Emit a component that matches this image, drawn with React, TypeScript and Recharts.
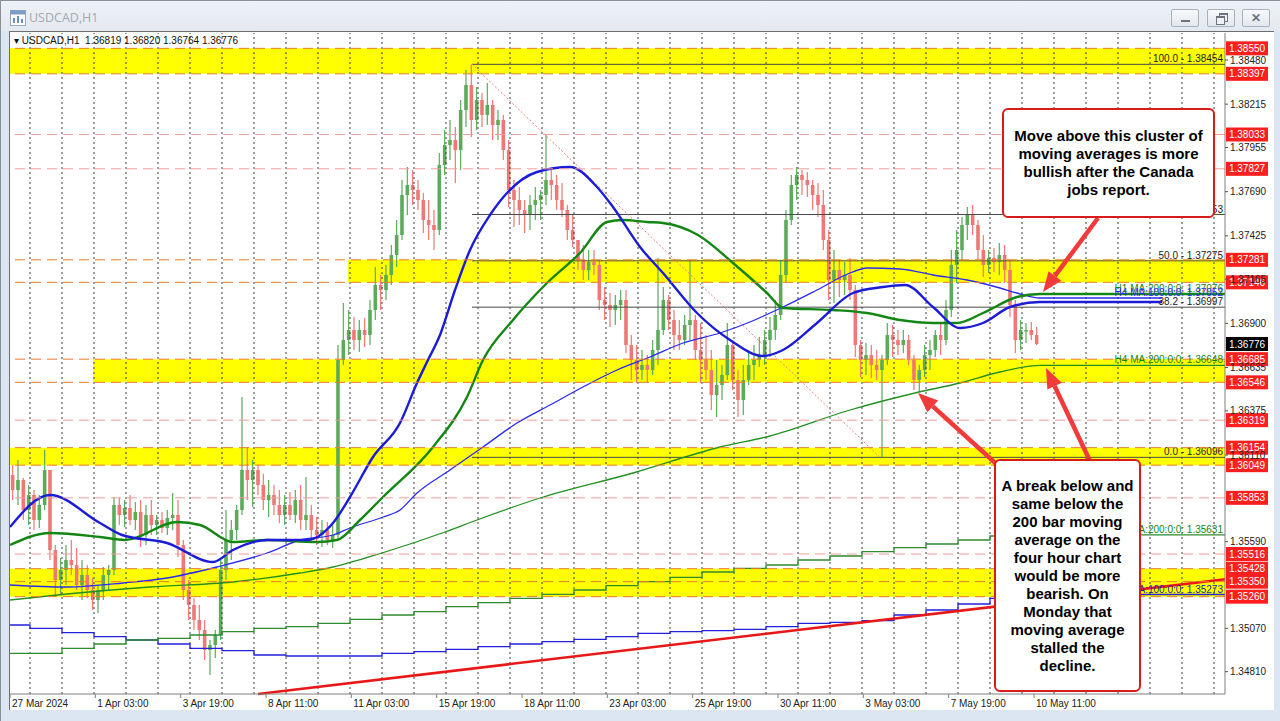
import React from 'react';
import { ComposedChart, Bar, Line, XAxis, YAxis, ReferenceArea, ReferenceLine } from 'recharts';

const FONT = '"Liberation Sans", Arial, sans-serif';
const BULL = '#5caa5c';
const BEAR = '#f07777';

// x is measured in H1 bars from the left edge of the chart
const X_MAX = 911.25;
const Y_MIN = 1.34676;
const Y_MAX = 1.38642;

const X_TICKS = [0, 64, 128, 192, 256, 320, 384, 448, 512, 576, 640, 704, 768];
const X_LABELS = ['27 Mar 2024', '1 Apr 03:00', '3 Apr 19:00', '8 Apr 11:00', '11 Apr 03:00', '15 Apr 19:00',
  '18 Apr 11:00', '23 Apr 03:00', '25 Apr 19:00', '30 Apr 11:00', '3 May 03:00', '7 May 19:00', '10 May 11:00'];
const Y_TICKS = [1.3848, 1.38215, 1.37955, 1.3769, 1.37425, 1.37165, 1.369, 1.36635, 1.36375, 1.3611, 1.3559, 1.3507, 1.3481];

const FIRST_OPEN = 1.3599;
const highs = [
  1.3605, 1.3608, 1.35972, 1.3593, 1.359, 1.3587, 1.3614, 1.3599, 1.3557, 1.35492,
  1.3557, 1.356, 1.35552, 1.3548, 1.3545, 1.35372, 1.3533, 1.35438, 1.3545, 1.35858,
  1.35852, 1.3584, 1.3587, 1.35828, 1.3584, 1.3581, 1.3584, 1.3575, 1.35768, 1.3578,
  1.35882, 1.3584, 1.356, 1.3536, 1.35252, 1.3521, 1.3512, 1.35, 1.3506, 1.3548,
  1.3578, 1.3572, 1.3581, 1.36458, 1.36158, 1.3608, 1.3605, 1.35998, 1.3596, 1.3593,
  1.359, 1.3587, 1.35888, 1.359, 1.3593, 1.35978, 1.3581, 1.35738, 1.3572, 1.35708,
  1.3569, 1.3677, 1.37022, 1.3698, 1.36938, 1.3692, 1.36932, 1.3704, 1.37238, 1.3719,
  1.3725, 1.3737, 1.3752, 1.3776, 1.37838, 1.3782, 1.3776, 1.37682, 1.3764, 1.3758,
  1.37922, 1.3806, 1.3812, 1.38078, 1.3824, 1.3842, 1.38454, 1.38318, 1.38282, 1.38342,
  1.3824, 1.3818, 1.3815, 1.38, 1.3776, 1.37718, 1.3764, 1.3767, 1.37718, 1.377,
  1.3803, 1.3782, 1.3779, 1.37742, 1.3761, 1.3755, 1.374, 1.3737, 1.3734, 1.3734,
  1.3728, 1.37118, 1.37082, 1.3707, 1.371, 1.371, 1.3683, 1.3677, 1.3674, 1.3671,
  1.368, 1.37292, 1.37118, 1.3707, 1.3698, 1.3692, 1.3695, 1.3728, 1.3695, 1.36902,
  1.3683, 1.3674, 1.3668, 1.3665, 1.36902, 1.368, 1.3662, 1.3665, 1.3674, 1.3677,
  1.36818, 1.3686, 1.36938, 1.3704, 1.3728, 1.3758, 1.3779, 1.37838, 1.3782, 1.37808,
  1.3776, 1.37742, 1.377, 1.3746, 1.3734, 1.3728, 1.37268, 1.37292, 1.3713, 1.368,
  1.36782, 1.3677, 1.3674, 1.3671, 1.36902, 1.3689, 1.3686, 1.3686, 1.3683, 1.3671,
  1.3665, 1.3677, 1.368, 1.3686, 1.36902, 1.3704, 1.3734, 1.3746, 1.37538, 1.37598,
  1.3761, 1.3752, 1.3743, 1.3734, 1.37352, 1.37382, 1.3737, 1.3728, 1.3704, 1.3692,
  1.36902, 1.36908, 1.36878,
];
const lows = [
  1.3584, 1.3581, 1.3572, 1.3569, 1.3566, 1.35672, 1.3578, 1.3548, 1.35258, 1.3527,
  1.3533, 1.3539, 1.353, 1.3524, 1.35252, 1.3518, 1.35162, 1.3524, 1.353, 1.3539,
  1.3569, 1.35678, 1.3569, 1.3566, 1.35558, 1.3557, 1.3563, 1.3563, 1.35642, 1.3563,
  1.3566, 1.35498, 1.3524, 1.3512, 1.3506, 1.35, 1.3488, 1.3479, 1.34892, 1.35,
  1.3536, 1.3548, 1.356, 1.3575, 1.3584, 1.35798, 1.3587, 1.3578, 1.35738, 1.3575,
  1.35702, 1.3569, 1.3572, 1.35702, 1.3566, 1.3566, 1.356, 1.3557, 1.35558, 1.3557,
  1.35552, 1.356, 1.3665, 1.3671, 1.3674, 1.36728, 1.36758, 1.3677, 1.3692, 1.3698,
  1.3704, 1.3713, 1.37238, 1.374, 1.3755, 1.3761, 1.3758, 1.37442, 1.374, 1.3734,
  1.3743, 1.3779, 1.3788, 1.37742, 1.3782, 1.38078, 1.38018, 1.3806, 1.38078, 1.3809,
  1.38, 1.38, 1.3788, 1.37598, 1.37478, 1.3749, 1.37442, 1.3746, 1.3752, 1.3752,
  1.3761, 1.3764, 1.3758, 1.37538, 1.374, 1.37358, 1.3722, 1.3716, 1.3716, 1.3719,
  1.3698, 1.3692, 1.36878, 1.3689, 1.3692, 1.36722, 1.3656, 1.36542, 1.3656, 1.36542,
  1.3659, 1.3665, 1.3683, 1.3686, 1.3674, 1.3674, 1.3677, 1.368, 1.3668, 1.36542,
  1.3656, 1.3638, 1.36338, 1.3644, 1.3656, 1.365, 1.36338, 1.3635, 1.3653, 1.3656,
  1.36638, 1.3665, 1.36698, 1.368, 1.3692, 1.37142, 1.3749, 1.3764, 1.3767, 1.37658,
  1.3758, 1.37538, 1.3734, 1.3704, 1.37022, 1.37058, 1.3707, 1.3704, 1.36698, 1.36578,
  1.3659, 1.36572, 1.3656, 1.36098, 1.3665, 1.36698, 1.3671, 1.36722, 1.3665, 1.365,
  1.36488, 1.36578, 1.3662, 1.36698, 1.3671, 1.3677, 1.36938, 1.37142, 1.3728, 1.374,
  1.3743, 1.3728, 1.37178, 1.37202, 1.37208, 1.3719, 1.37142, 1.36938, 1.36722, 1.3674,
  1.36782, 1.368, 1.3677,
];
const closes = [
  1.359, 1.3596, 1.3578, 1.3587, 1.3572, 1.3581, 1.3602, 1.3554, 1.3536, 1.3542,
  1.3548, 1.3545, 1.3533, 1.3539, 1.353, 1.3524, 1.353, 1.3539, 1.3542, 1.3581,
  1.3575, 1.35792, 1.3572, 1.35768, 1.3563, 1.3575, 1.3569, 1.3572, 1.35672, 1.35732,
  1.3575, 1.3557, 1.353, 1.3521, 1.3512, 1.3506, 1.3494, 1.3497, 1.3503, 1.3542,
  1.356, 1.3566, 1.3578, 1.3602, 1.3596, 1.3602, 1.3593, 1.3584, 1.3587, 1.3581,
  1.3575, 1.3581, 1.3575, 1.3584, 1.3572, 1.3575, 1.3566, 1.3563, 1.3566, 1.356,
  1.3563, 1.3668, 1.368, 1.3686, 1.368, 1.3686, 1.3683, 1.3698, 1.3713, 1.371,
  1.3719, 1.3731, 1.3743, 1.3767, 1.3773, 1.377, 1.3764, 1.3752, 1.3749, 1.3746,
  1.3785, 1.3797, 1.38, 1.3794, 1.3818, 1.3833, 1.3812, 1.3824, 1.3815, 1.3821,
  1.3809, 1.3812, 1.3794, 1.377, 1.3764, 1.3758, 1.3755, 1.3761, 1.3764, 1.3767,
  1.3776, 1.3773, 1.3764, 1.3758, 1.3746, 1.374, 1.3728, 1.3722, 1.37268, 1.3725,
  1.3704, 1.3701, 1.3698, 1.3701, 1.3704, 1.3677, 1.3668, 1.3662, 1.3665, 1.3662,
  1.3674, 1.3686, 1.3704, 1.3692, 1.3683, 1.368, 1.3689, 1.3692, 1.3674, 1.3668,
  1.3662, 1.3647, 1.3653, 1.3659, 1.3677, 1.3656, 1.3644, 1.3656, 1.3665, 1.3668,
  1.3671, 1.368, 1.3686, 1.3695, 1.3719, 1.3752, 1.3773, 1.3779, 1.3776, 1.3773,
  1.3767, 1.3761, 1.374, 1.3716, 1.3722, 1.3716, 1.3719, 1.371, 1.3677, 1.3668,
  1.3671, 1.3665, 1.3662, 1.3668, 1.3683, 1.368, 1.3677, 1.368, 1.3668, 1.3656,
  1.3662, 1.3671, 1.3674, 1.3683, 1.368, 1.3698, 1.3725, 1.3734, 1.3749, 1.3755,
  1.3749, 1.3734, 1.3725, 1.37292, 1.37268, 1.3731, 1.3722, 1.3701, 1.368, 1.3686,
  1.3686, 1.3683, 1.36776,
];

// moving averages: [bar, price]
const H1_MA100: [number, number][] = [
  [0, 1.35678], [30, 1.3587], [67.5, 1.35702], [84, 1.3563], [117.75, 1.35582], [152.25, 1.35468],
  [167.25, 1.3554], [192.75, 1.356], [222.75, 1.356], [242.25, 1.35702], [255, 1.35858], [272.25, 1.36098],
  [292.5, 1.36302], [305.25, 1.36542], [312.75, 1.36668], [322.5, 1.3683], [333.75, 1.371], [345, 1.3734],
  [360, 1.3755], [372.75, 1.37682], [395.25, 1.37808], [420, 1.37838], [440.25, 1.37718], [452.25, 1.37598],
  [472.5, 1.37358], [489.75, 1.37202], [515.25, 1.36962], [540, 1.368], [564.75, 1.36704], [579.75, 1.3674],
  [605.25, 1.36902], [632.25, 1.37082], [654.75, 1.37118], [671.25, 1.3713], [692.25, 1.36998], [712.5, 1.36872],
  [729.75, 1.36902], [750, 1.36998], [772.5, 1.37028], [864, 1.37028],
];
const H1_MA200: [number, number][] = [
  [0, 1.3557], [30, 1.35642], [67.5, 1.35618], [86.25, 1.356], [125.25, 1.35708], [142.5, 1.3569],
  [167.25, 1.35588], [192.75, 1.356], [230.25, 1.35588], [245.25, 1.356], [262.5, 1.3572], [279.75, 1.35858],
  [317.25, 1.36158], [342.75, 1.36458], [354.75, 1.3668], [377.25, 1.3692], [402.75, 1.37142], [427.5, 1.37322],
  [447.75, 1.37508], [459.75, 1.3752], [477.75, 1.37508], [489.75, 1.37502], [516, 1.3743], [542.25, 1.37262],
  [567.75, 1.37082], [579.75, 1.36992], [617.25, 1.3698], [642.75, 1.36962], [667.5, 1.3692], [692.25, 1.36902],
  [710.25, 1.36902], [729.75, 1.36962], [755.25, 1.37058], [772.5, 1.37076], [911.25, 1.37076],
];
const H4_MA100: [number, number][] = [
  [0, 1.3533], [42.75, 1.35318], [84.75, 1.35342], [117.75, 1.35372], [155.25, 1.35438], [192.75, 1.35522],
  [217.5, 1.356], [242.25, 1.3563], [255, 1.35672], [279.75, 1.35738], [292.5, 1.3578], [305.25, 1.35882],
  [330, 1.3602], [354.75, 1.36158], [380.25, 1.36302], [405, 1.3641], [429.75, 1.36518], [455.25, 1.3662],
  [480, 1.36698], [504.75, 1.36782], [532.5, 1.36842], [555, 1.36908], [579.75, 1.36998], [605.25, 1.371],
  [630, 1.37202], [642.75, 1.37232], [667.5, 1.37226], [692.25, 1.3719], [717.75, 1.3716], [742.5, 1.37112],
  [755.25, 1.37082], [772.5, 1.37052], [864, 1.37052],
];
const H4_MA200: [number, number][] = [
  [0, 1.3524], [42.75, 1.35276], [105, 1.35318], [167.25, 1.35348], [217.5, 1.35402], [242.25, 1.35438],
  [279, 1.35522], [326.25, 1.35648], [350.25, 1.3572], [397.5, 1.35852], [467.25, 1.36002], [532.5, 1.36158],
  [570, 1.36224], [630, 1.3638], [678.75, 1.36482], [712.5, 1.36542], [742.5, 1.36608], [772.5, 1.36648],
  [911.25, 1.36648],
];
// daily MAs, one value per trading day
const D1_MA200 = [1.3492, 1.3492, 1.3495, 1.34976, 1.35, 1.3501, 1.3503, 1.3505, 1.3507, 1.3508, 1.351,
  1.35124, 1.3515, 1.3517, 1.352, 1.35224, 1.3525, 1.35274, 1.353, 1.35326, 1.3535, 1.35376, 1.35408,
  1.3543, 1.3545, 1.3548, 1.35504, 1.3553, 1.35554, 1.35576, 1.356, 1.35624, 1.35631];
const D1_MA100 = [1.3509, 1.3507, 1.35044, 1.3502, 1.35, 1.34976, 1.3495, 1.34936, 1.3491, 1.34904, 1.34904,
  1.34904, 1.3492, 1.3493, 1.34944, 1.3496, 1.34976, 1.3499, 1.35004, 1.3502, 1.3504, 1.3505, 1.35056,
  1.35064, 1.3508, 1.351, 1.35106, 1.35116, 1.3515, 1.3518, 1.35216, 1.3525, 1.35273];

// drawn objects
const BANDS = [
  { from: 0, lo: 1.38397, hi: 1.3855 },
  { from: 253.5, lo: 1.37146, hi: 1.37281 },
  { from: 62.25, lo: 1.36546, hi: 1.36685 },
  { from: 0, lo: 1.36049, hi: 1.36154 },
  { from: 0, lo: 1.3526, hi: 1.35428 },
];
const LEVELS = [
  { v: 1.3855, edge: true }, { v: 1.38397, edge: true }, { v: 1.38033, edge: false }, { v: 1.37827, edge: false },
  { v: 1.37281, edge: true }, { v: 1.37146, edge: true }, { v: 1.36685, edge: true }, { v: 1.36546, edge: true },
  { v: 1.36319, edge: false }, { v: 1.36154, edge: true }, { v: 1.36049, edge: true }, { v: 1.35853, edge: false },
  { v: 1.35516, edge: false }, { v: 1.35428, edge: true }, { v: 1.3535, edge: true }, { v: 1.3526, edge: true },
];
const FIB_START = 346.5;
const FIB_END = 652.5;
const FIB = [
  { name: '100.0', v: 1.38454 }, { name: '61.8', v: 1.37553 }, { name: '50.0', v: 1.37275 },
  { name: '38.2', v: 1.36997 }, { name: '0.0', v: 1.36096 },
];
const TREND = [{ x: 186, y: 1.34676 }, { x: X_MAX, y: 1.35364 }];
const ARROWS = [
  [{ x: 816, y: 1.37532 }, { x: 774.75, y: 1.37088 }],
  [{ x: 810, y: 1.36074 }, { x: 777, y: 1.36632 }],
  [{ x: 744.75, y: 1.3602 }, { x: 681, y: 1.36482 }],
];
const MA_LABELS = [
  { text: 'H1 MA:200:0:0: 1.37076', v: 1.37076, color: '#138613' },
  { text: 'H4 MA:100:0:0: 1.37052', v: 1.37052, color: '#2b2bf0' },
  { text: 'H4 MA:200:0:0: 1.36648', v: 1.36648, color: '#138613' },
  { text: 'D1 MA:200:0:0: 1.35631', v: 1.35631, color: '#138613' },
  { text: 'D1 MA:100:0:0: 1.35273', v: 1.35273, color: '#2222aa' },
];

const candles = closes.map((c, i) => ({
  h: 4 * i + 2,
  open: i === 0 ? FIRST_OPEN : closes[i - 1],
  high: highs[i],
  low: lows[i],
  close: c,
}));
const toSeries = (pts: [number, number][]) => pts.map(([h, v]) => ({ h, v }));
const dayStart = (j: number) => (j === 0 ? 0 : 15 + 24 * (j - 1));
const stepSeries = (vals: number[]) => [
  ...vals.map((v, j) => ({ h: dayStart(j), v })),
  { h: X_MAX, v: vals[vals.length - 1] },
];
const GRID = Array.from({ length: 38 }, (_, k) => 15 + 24 * k);

const Candle = (props: any) => {
  const { x, y, width, height, payload } = props;
  if (!payload || x == null) return null;
  const top = Math.min(y, y + height);
  const hh = Math.abs(height);
  const { open, close, high, low } = payload;
  const span = high - low || 1e-9;
  const toY = (v: number) => top + ((high - v) / span) * hh;
  const color = close >= open ? BULL : BEAR;
  const cx = x + width / 2;
  const bw = 3.6;
  const b1 = toY(Math.max(open, close));
  const b2 = toY(Math.min(open, close));
  return (
    <g>
      <line x1={cx} x2={cx} y1={top} y2={top + hh} stroke={color} strokeWidth={1.2} />
      <rect x={cx - bw / 2} y={b1} width={bw} height={Math.max(1.5, b2 - b1)} fill={color} />
    </g>
  );
};

const XTick = (props: any) => {
  const { x, y, payload } = props;
  const idx = X_TICKS.indexOf(payload.value);
  return (
    <text x={x + 2} y={y + 7} fontSize={10} fontFamily={FONT} fill="#222" textAnchor="start">
      {X_LABELS[idx]}
    </text>
  );
};

const tagLabel = (text: string, bg: string) => (p: any) => {
  const vb = p.viewBox || {};
  const x = vb.x + vb.width + 1;
  const y = vb.y;
  return (
    <g>
      <rect x={x} y={y - 7} width={42} height={14} fill={bg} />
      <text x={x + 21} y={y + 3.5} textAnchor="middle" fill="#fff" fontSize={10} fontFamily={FONT}>{text}</text>
    </g>
  );
};

const rightText = (text: string, color: string) => (p: any) => {
  const vb = p.viewBox || {};
  return (
    <text x={vb.x + vb.width - 2} y={vb.y - 2} textAnchor="end" fontSize={10} fontFamily={FONT} fill={color}>{text}</text>
  );
};

const ArrowShape = (props: any) => {
  const { x1, y1, x2, y2 } = props;
  const a = Math.atan2(y2 - y1, x2 - x1);
  const len = 20;
  const half = 8;
  const bx = x2 - len * Math.cos(a);
  const by = y2 - len * Math.sin(a);
  const pts = [
    [x2, y2],
    [bx + half * Math.sin(a), by - half * Math.cos(a)],
    [bx - half * Math.sin(a), by + half * Math.cos(a)],
  ].map((p) => p.join(',')).join(' ');
  return (
    <g>
      <line x1={x1} y1={y1} x2={bx} y2={by} stroke="#f23a3a" strokeWidth={4.5} />
      <polygon points={pts} fill="#f23a3a" />
    </g>
  );
};

const boxStyle: React.CSSProperties = {
  position: 'absolute',
  background: '#fff',
  border: '2px solid #d81b1b',
  borderRadius: 6,
  boxSizing: 'border-box',
  display: 'flex',
  flexDirection: 'column',
  alignItems: 'center',
  justifyContent: 'center',
  fontFamily: FONT,
  fontWeight: 'bold',
  fontSize: 15,
  lineHeight: '18px',
  color: '#000',
  textAlign: 'center',
};

const btn: React.CSSProperties = {
  position: 'absolute',
  top: 9,
  width: 28,
  height: 18,
  border: '1px solid #a7b0bb',
  borderRadius: 2,
  background: 'linear-gradient(#f7f9fb,#e3e8ee)',
  boxSizing: 'border-box',
};

export default function App() {
  return (
    <div style={{ position: 'relative', width: 1280, height: 721, overflow: 'hidden', background: '#dce6f2' }}>
      <style>{'body{margin:0;}'}</style>
      {/* window frame */}
      <div style={{ position: 'absolute', left: 0, top: 0, width: 1280, height: 31, background: 'linear-gradient(#eef2f7,#e3e9f0)' }} />
      <div style={{ position: 'absolute', left: 0, top: 0, width: 1, height: 721, background: '#8b9097' }} />
      <div style={{ position: 'absolute', left: 0, top: 0, width: 1280, height: 1, background: '#8b9097' }} />
      <svg style={{ position: 'absolute', left: 10, top: 10 }} width={16} height={16}>
        <rect x={0.5} y={0.5} width={15} height={15} fill="#fff" stroke="#9aa7b8" />
        <rect x={0.5} y={0.5} width={15} height={4} fill="#7d9cc8" />
        <rect x={3} y={8} width={2} height={5} fill="#6a8fc0" />
        <rect x={7} y={6} width={2} height={7} fill="#6a8fc0" />
        <rect x={11} y={9} width={2} height={4} fill="#6a8fc0" />
      </svg>
      <div style={{ position: 'absolute', left: 29, top: 9, fontFamily: '"Open Sans", sans-serif', fontSize: 12.5, color: '#a5a9ae' }}>USDCAD,H1</div>
      <div style={{ ...btn, left: 1171 }}>
        <div style={{ position: 'absolute', left: 9, top: 10, width: 9, height: 2, background: '#6c7480' }} />
      </div>
      <div style={{ ...btn, left: 1207 }}>
        <div style={{ position: 'absolute', left: 11, top: 3, width: 7, height: 6, border: '1px solid #6c7480', borderTopWidth: 2 }} />
        <div style={{ position: 'absolute', left: 8, top: 6, width: 7, height: 6, border: '1px solid #6c7480', borderTopWidth: 2, background: '#eef1f5' }} />
      </div>
      <div style={{ ...btn, left: 1242, fontFamily: FONT, fontSize: 12, color: '#6c7480', textAlign: 'center', lineHeight: '16px', fontWeight: 'bold' }}>✕</div>

      {/* chart client area */}
      <div style={{ position: 'absolute', left: 9, top: 31, width: 1264, height: 678, background: '#fff', borderLeft: '1px solid #6e6e6e', borderTop: '1px solid #6e6e6e' }} />

      <div style={{ position: 'absolute', left: 0, top: 0 }}>
        <ComposedChart width={1280} height={721} data={candles} margin={{ top: 33, right: 0, bottom: 0, left: 10 }}>
          <XAxis
            type="number"
            dataKey="h"
            domain={[0, X_MAX]}
            allowDataOverflow
            ticks={X_TICKS}
            interval={0}
            height={27}
            tickSize={4}
            axisLine={{ stroke: '#7f7f7f' }}
            tickLine={{ stroke: '#7f7f7f' }}
            tick={<XTick />}
          />
          <YAxis
            orientation="right"
            type="number"
            domain={[Y_MIN, Y_MAX]}
            allowDataOverflow
            ticks={Y_TICKS}
            interval={0}
            width={55}
            tickSize={3}
            tickMargin={2}
            axisLine={{ stroke: '#7f7f7f' }}
            tickLine={{ stroke: '#555' }}
            tick={{ fontSize: 10, fill: '#222', fontFamily: FONT }}
            tickFormatter={(v: number) => v.toFixed(5)}
          />
          {BANDS.map((b, i) => (
            <ReferenceArea key={`band-${i}`} x1={b.from} x2={X_MAX} y1={b.lo} y2={b.hi} fill="#ffff00" fillOpacity={1} stroke="none" ifOverflow="visible" />
          ))}
          {GRID.map((h) => (
            <ReferenceLine key={`grid-${h}`} x={h} stroke="#3c3c3c" strokeDasharray="2 3" strokeWidth={1} />
          ))}
          {FIB.map((f) => (
            <ReferenceLine
              key={`fib-${f.name}`}
              segment={[{ x: FIB_START, y: f.v }, { x: X_MAX, y: f.v }]}
              stroke="#4a4a4a"
              strokeWidth={1}
              ifOverflow="visible"
              label={rightText(`${f.name} - ${f.v.toFixed(5)}`, '#222')}
            />
          ))}
          <ReferenceLine
            segment={[{ x: FIB_START, y: FIB[0].v }, { x: FIB_END, y: FIB[FIB.length - 1].v }]}
            stroke="#f08080"
            strokeDasharray="2 2"
            ifOverflow="visible"
          />
          <Line data={stepSeries(D1_MA100)} dataKey="v" type="stepAfter" stroke="#2222dd" strokeWidth={1.3} dot={false} isAnimationActive={false} />
          <Line data={stepSeries(D1_MA200)} dataKey="v" type="stepAfter" stroke="#2e8b2e" strokeWidth={1.3} dot={false} isAnimationActive={false} />
          <ReferenceLine segment={TREND} stroke="#e81818" strokeWidth={2.5} ifOverflow="visible" />
          <Bar dataKey={(d: any) => [d.low, d.high]} barSize={5} shape={<Candle />} isAnimationActive={false} />
          <Line data={toSeries(H4_MA200)} dataKey="v" type="monotone" stroke="#239023" strokeWidth={1.3} dot={false} isAnimationActive={false} />
          <Line data={toSeries(H4_MA100)} dataKey="v" type="monotone" stroke="#2b2bf0" strokeWidth={1.3} dot={false} isAnimationActive={false} />
          <Line data={toSeries(H1_MA200)} dataKey="v" type="monotone" stroke="#138613" strokeWidth={2.4} dot={false} isAnimationActive={false} />
          <Line data={toSeries(H1_MA100)} dataKey="v" type="monotone" stroke="#1c1cd6" strokeWidth={2.4} dot={false} isAnimationActive={false} />
          {LEVELS.map((l) => (
            <ReferenceLine
              key={`lvl-${l.v}`}
              y={l.v}
              stroke={l.edge ? '#f07a2a' : '#f39a9a'}
              strokeDasharray="10 6"
              strokeWidth={1}
              label={tagLabel(l.v.toFixed(5), '#ff1f1f')}
            />
          ))}
          {MA_LABELS.map((m) => (
            <ReferenceLine
              key={`mal-${m.text}`}
              segment={[{ x: 830, y: m.v }, { x: X_MAX, y: m.v }]}
              stroke="none"
              strokeOpacity={0}
              ifOverflow="visible"
              label={rightText(m.text, m.color)}
            />
          ))}
          <ReferenceLine y={closes[closes.length - 1]} stroke="none" strokeOpacity={0} label={tagLabel(closes[closes.length - 1].toFixed(5), '#000')} />
          {ARROWS.map((a, i) => (
            <ReferenceLine key={`arrow-${i}`} segment={a} ifOverflow="visible" shape={ArrowShape} stroke="#f23a3a" strokeWidth={4} />
          ))}
        </ComposedChart>
      </div>

      {/* header */}
      <div style={{ position: 'absolute', left: 14, top: 35, fontFamily: FONT, fontSize: 10, color: '#111', whiteSpace: 'pre' }}>
        {'▾ USDCAD,H1  1.36819 1.36820 1.36764 1.36776'}
      </div>

      {/* annotations */}
      <div style={{ ...boxStyle, left: 1002, top: 108, width: 213, height: 110 }}>
        <div>Move above this cluster of</div>
        <div>moving averages is more</div>
        <div>bullish after the Canada</div>
        <div>jobs report.</div>
      </div>
      <div style={{ ...boxStyle, left: 994, top: 459, width: 147, height: 233 }}>
        <div>A break below and</div>
        <div>same below the</div>
        <div>200 bar moving</div>
        <div>average on the</div>
        <div>four hour chart</div>
        <div>would be more</div>
        <div>bearish. On</div>
        <div>Monday that</div>
        <div>moving average</div>
        <div>stalled the</div>
        <div>decline.</div>
      </div>
    </div>
  );
}
